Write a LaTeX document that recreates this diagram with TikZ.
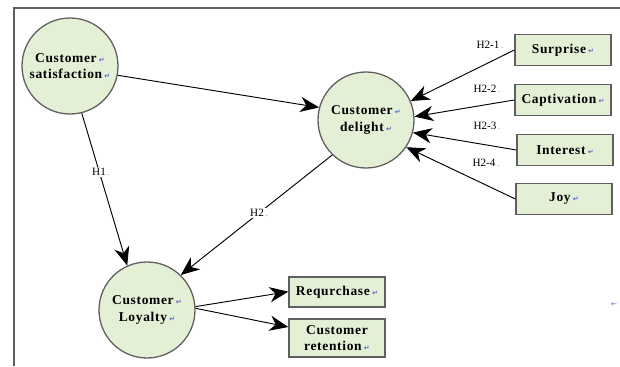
\documentclass[tikz,border=0pt]{standalone}
\usepackage{fontspec}
\setmainfont{Liberation Serif}
\newfontfamily\boxfont{Liberation Serif}[LetterSpace=5]
\newfontfamily\symfont{DejaVu Sans}
\usetikzlibrary{arrows.meta}

\definecolor{nodegreen}{RGB}{228,240,214}
\definecolor{nodeline}{RGB}{95,95,95}
\definecolor{markblue}{RGB}{80,105,200}

% paragraph marks and small dots as printed in the picture
\newcommand{\pmark}{\,{\color{markblue}\symfont\fontsize{6}{6}\selectfont ↵}}
\newcommand{\hdot}{\,{\color{markblue}\fontsize{7}{7}\selectfont .}}

\begin{document}
\begin{tikzpicture}[
                x = 0.03cm, y = -0.03cm, % pixel grid of the reference
                > = {Stealth[length = 16pt, width = 13pt, inset = 5pt]}, % arrow head style
                thick % line style
            ]

            \tikzstyle{construct}=[draw = nodeline, line width = 1.1pt,
            fill = nodegreen, circle, minimum size = 2.88cm, inner sep = 1pt,
            align = center, font = \boxfont\fontsize{11.5}{14}\selectfont\bfseries]
            \tikzstyle{item}=[draw = nodeline, line width = 1.1pt,
            fill = nodegreen, rectangle, minimum width = 2.88cm,
            minimum height = 0.93cm, inner sep = 1pt, align = center,
            font = \boxfont\fontsize{11.5}{13}\selectfont\bfseries]
            \tikzstyle{hyp}=[inner sep = 1pt, font = \fontsize{9.5}{10}\selectfont]

            \useasboundingbox (0,0) rectangle (620,366);
            \draw[nodeline, line width = 1pt] (14,366) -- (14,8) -- (620,8);

            % constructs
            \node (sat) [construct] at (70,66) {Customer\pmark\\satisfaction\pmark};
            \node (del) [construct] at (366,120) {Customer\pmark\\delight\pmark};
            \node (loy) [construct] at (147,310) {Customer\pmark\\Loyalty\pmark};

            % items
            \node (sur) [item] at (563,50) {Surprise\pmark};
            \node (cap) [item] at (563,100) {Captivation\pmark};
            \node (int) [item] at (565,150) {Interest\pmark};
            \node (joy) [item] at (564,199) {Joy\pmark};
            \node (req) [item, minimum height = 0.9cm] at (337,292) {Requrchase\pmark};
            \node (ret) [item, minimum height = 1.14cm] at (337,338) {Customer\\retention\pmark};
            \node (end) [inner sep = 0pt, text = markblue, font = \symfont\fontsize{6}{6}\selectfont]
            at (614,305) {←};

            \path[->] (sat.-11) edge (del.165);
            \path[->] (sat.-76) edge (loy.114);
            \path[->] (del.226) edge (loy.46);
            \path[->] (sur.west) edge (del.23);
            \path[->] (cap.west) edge (del.4);
            \path[->] (int.west) edge (del.-15);
            \path[->] (joy.west) edge (del.-34);
            \path[->] (loy.4) edge ([yshift = 0.01cm]req.west);
            \path[->] (loy.2) edge ([yshift = 0.33cm]ret.west);

            % hypotheses
            \node (h1) [hyp, fill = white] at (101,172) {H1\hdot};
            \node (h2) [hyp, fill = white] at (259,213) {H2\hdot};
            \node (h21) [hyp] at (490,45) {H2-1\hdot};
            \node (h22) [hyp] at (487,89) {H2-2\hdot};
            \node (h23) [hyp] at (487,126) {H2-3\hdot};
            \node (h24) [hyp] at (486,163) {H2-4\hdot};

        \end{tikzpicture}
\end{document}
